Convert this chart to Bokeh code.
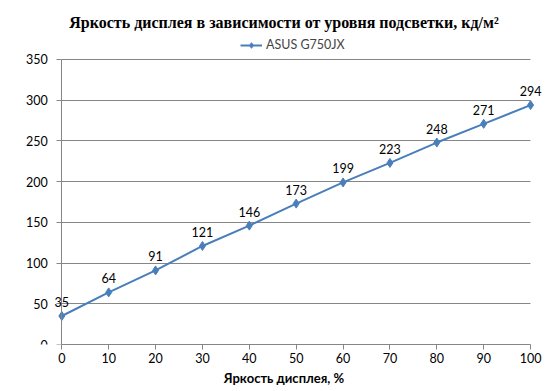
from bokeh.plotting import figure
from bokeh.models import ColumnDataSource, Legend, LegendItem, Title, FixedTicker, Range1d, LabelSet
from bokeh.core.properties import value
from bokeh.embed import file_html
from bokeh.resources import INLINE

levels = [0, 10, 20, 30, 40, 50, 60, 70, 80, 90, 100]
brightness = [35, 64, 91, 121, 146, 173, 199, 223, 248, 271, 294]
y_ticks = [0, 50, 100, 150, 200, 250, 300, 350]
series_name = "ASUS G750JX"
title_text = "Яркость дисплея в зависимости от уровня подсветки, кд/м²"
x_label = "Яркость дисплея, %"

src = ColumnDataSource(dict(x=levels, y=brightness, t=[str(v) for v in brightness]))

# frame is wider/taller than the axes so that labels and legend are not clipped
p = figure(width=551, height=391, output_backend="svg", toolbar_location=None,
           x_range=Range1d(-8.6, 103.4), y_range=Range1d(0, 385.6))
p.min_border_left = 21
p.min_border_right = 5
p.min_border_bottom = 47
p.min_border_top = 30
p.outline_line_color = None
p.background_fill_color = "white"
p.border_fill_color = "white"

grey = "#868686"
blue = "#4A7EBB"

p.xgrid.grid_line_color = None
yg = p.ygrid[0]
yg.ticker = FixedTicker(ticks=y_ticks[1:])
if "cross_bounds" in yg.properties():
    yg.grid_line_color = grey
    yg.cross_bounds = (levels[0], levels[-1])
else:
    yg.grid_line_color = None
    p.multi_line(xs=[[levels[0], levels[-1]] for _ in y_ticks[1:]],
                 ys=[[v, v] for v in y_ticks[1:]], line_color=grey, line_width=1)

r_line = p.line("x", "y", source=src, line_color=blue, line_width=2)
r_mark = p.scatter("x", "y", source=src, marker="diamond", size=9, fill_color=blue, line_color=blue)

labels = LabelSet(x="x", y="y", text="t", source=src, y_offset=9, text_align="center",
                  text_baseline="bottom", text_font=value("Lato"), text_font_size="12.5px",
                  text_color="#000000")
p.add_layout(labels)

p.xaxis.ticker = FixedTicker(ticks=levels)
p.yaxis.ticker = FixedTicker(ticks=y_ticks)
p.xaxis.bounds = (levels[0], levels[-1])
p.yaxis.bounds = (y_ticks[0], y_ticks[-1])
p.yaxis.fixed_location = levels[0]
for ax in (p.xaxis[0], p.yaxis[0]):
    ax.axis_line_color = grey
    ax.major_tick_line_color = grey
    ax.major_tick_out = 5
    ax.major_tick_in = 0
    ax.minor_tick_line_color = None
    ax.major_label_text_font = "Lato"
    ax.major_label_text_font_size = "12.5px"
    ax.major_label_text_color = "#000000"
p.yaxis.major_label_standoff = 9
p.xaxis.major_label_standoff = 3
p.xaxis.axis_label = x_label
p.xaxis.axis_label_text_font = "Lato"
p.xaxis.axis_label_text_font_style = "bold"
p.xaxis.axis_label_text_font_size = "13px"
p.xaxis.axis_label_standoff = 4
p.xaxis.axis_label_text_color = "#000000"

legend = Legend(items=[LegendItem(label=series_name, renderers=[r_line, r_mark])],
                orientation="horizontal", location=(219, 292), border_line_color=None,
                label_text_font="Lato", label_text_font_size="12.5px",
                glyph_width=22, glyph_height=14, padding=0, margin=0, label_standoff=4,
                background_fill_alpha=0)
p.add_layout(legend, "center")

t = Title(text=title_text, align="center", text_font="Liberation Serif", text_font_style="bold",
          text_font_size="16px", text_color="#000000", standoff=0, offset=0)
p.add_layout(t, "above")

open("out.html", "w").write(file_html(p, INLINE))
